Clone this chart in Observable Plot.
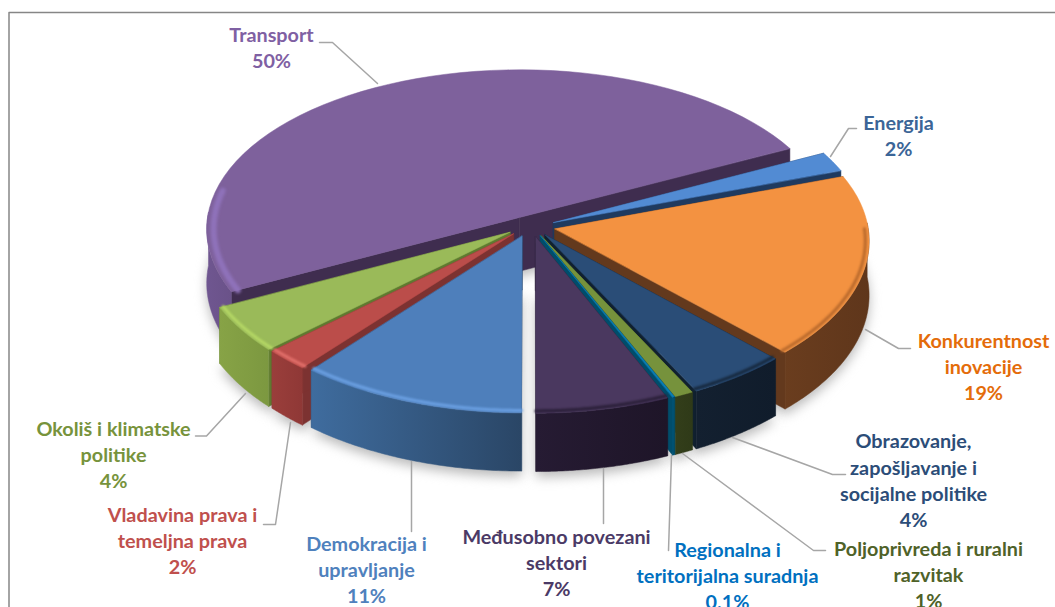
<!DOCTYPE html>
<html><head><meta charset="utf-8">
<style>html,body{margin:0;padding:0;background:#fff;overflow:hidden}</style>
<script src="https://cdn.jsdelivr.net/npm/d3@7"></script>
<script src="https://cdn.jsdelivr.net/npm/@observablehq/plot@0.6"></script>
</head><body><div id="chart"></div>
<script>
// Data, clockwise from the bottom of the pie (slice sizes)
const names = ["Demokracija i\nupravljanje","Vladavina prava i\ntemeljna prava","Okoliš i klimatske\npolitike","Transport","Energija","Konkurentnost\ninovacije","Obrazovanje,\nzapošljavanje i\nsocijalne politike","Poljoprivreda i ruralni\nrazvitak","Regionalna i\nteritorijalna suradnja","Međusobno povezani\nsektori"];
const values = [10.9,2.1,4.6,50,2,18.2,4.8,0.9,0.1,6.4];
const percents = ["11%","2%","4%","50%","2%","19%","4%","1%","0.1%","7%"];

// Colours
const textColors = ["#4f81bd","#c0504d","#77933c","#7f60a3","#3b6597","#e46c0a","#2c4d78","#4f6228","#0070c0","#4b3a66"];
const topColors  = ["#4e7fbb","#bb4d4a","#9aba59","#7e619c","#528bd3","#f39241","#2a4d77","#76923c","#0b7fb5","#4a385f"];
const faceColors = ["#2c4a6e","#7c3231","#5f7a30","#3f2d4f","#1f3a5f","#63391d","#10202f","#33401a","#004d6b","#1f1628"];
const wallFrom   = ["#3f6c9e","#9a3e3b","#87a346","#6f5690","#1f3a5f","#6a3d1e","#132030","#333e1a","#005477","#261b33"];
const wallTo     = ["#2a4666","#8f3836","#7c9840","#6a5289","#1f3a5f","#5f361b","#101c2b","#2f3a18","#004d6b","#1e1528"];
const rimColors  = ["#6ba0e2","#e2706b","#b5d865","#8f72ba",null,"#b8692c","#16283d",null,null,"#2a1f38"];
const rimFrom    = [0,0,0,62,0,270,0,0,0,0];
const rimTo      = [360,360,360,100,0,340,360,0,0,360];
const rimWidth   = [3,3,3,6,0,3,3,0,0,3];
const drawOrder  = [3,4,5,2,1,6,7,8,0,9];

// Layout
const W = 1055, H = 607;
const cx = 530, cy = 226, Rx = 313, Ry = 161, perspX = 0.07, perspY = 0.08, depth = 54;
const ex = 0.08, ey = 0.0625;
const labelX = [366,182,113,271,898,983,913,928,727,556];
const labelY = [568,539,453,46,134,365,479,573,574,561];
const leaders = [
  [[411,461],[411,531]],
  [[263,524],[275,524],[290,422]],
  [[195,435.5],[206,435.5],[245,393]],
  [[319,42],[332,42],[377,83]],
  [[856,128],[848,128],[830,156]],
  [[910,348],[898,348],[865,329]],
  [[845,474],[832,474],[732,437]],
  [[825,550],[813,550],[682,453]],
  [[668,550],[671,455]],
  [[603,468],[603,523]]
];
const frame = [[8.5,607],[8.5,12],[1055,12]];

const arcs = d3.pie().sort(null).startAngle(0).endAngle(2*Math.PI)(values);
const deg = Math.PI/180;
function project(u, v, drop = 0) {
  const sx = 1/(1 - perspX*v), sy = 1/(1 - perspY*v);
  return {x: cx + Rx*u*sx, y: cy + Ry*v*sy + drop*sx};
}
function geom(a) {
  const mid = (a.startAngle + a.endAngle)/2;
  const ox = -Math.sin(mid)*ex, oy = Math.cos(mid)*ey;
  const pt = (th, r, drop) => project(ox - r*Math.sin(th), oy + r*Math.cos(th), drop);
  const rim = (r, drop, t0 = a.startAngle, t1 = a.endAngle) => d3.range(0, 61).map(k => pt(t0 + (t1-t0)*k/60, r, drop));
  return {pt, rim};
}
const poly = (pts, fill) => Plot.line(pts, {x:"x", y:"y", fill, stroke:fill, strokeWidth:0.5, curve:"linear-closed"});

const marks = [];
// soft ground shadow
arcs.forEach(a => {
  const g = geom(a);
  marks.push(Plot.line([g.pt(a.startAngle,0,depth+5), ...g.rim(1,depth+5)], {x:"x", y:"y", fill:"#b9b9b9", stroke:"none", curve:"linear-closed", imageFilter:"blur(6px)"}));
});
// slices, back to front
drawOrder.forEach(i => {
  const a = arcs[i], g = geom(a);
  [a.startAngle, a.endAngle].forEach(th => {
    marks.push(poly([g.pt(th,0,0), g.pt(th,1,0), g.pt(th,1,depth), g.pt(th,0,depth)], faceColors[i]));
  });
  // outer wall: only the part of the rim that faces the viewer
  const spans = [[a.startAngle, Math.min(a.endAngle, 92*deg)], [Math.max(a.startAngle, 268*deg), a.endAngle]];
  spans.filter(([s,e]) => e > s).forEach(([s,e]) => {
    marks.push(poly([...g.rim(1,0,s,e), ...g.rim(1,depth,s,e).reverse()], `url(#wall${i})`));
  });
  marks.push(poly([g.pt(a.startAngle,0,0), ...g.rim(1,0)], topColors[i]));
  if (rimColors[i]) {
    const t0 = Math.max(a.startAngle, rimFrom[i]*deg), t1 = Math.min(a.endAngle, rimTo[i]*deg);
    if (t1 > t0) marks.push(Plot.line(g.rim(i===3?0.978:0.988,0,t0,t1), {x:"x", y:"y", stroke:rimColors[i], strokeWidth:rimWidth[i], imageFilter:i===3?"blur(1.5px)":"blur(1px)"}));
  }
});
// leader lines
leaders.forEach(l => marks.push(Plot.line(l.map(([x,y]) => ({x,y})), {x:"x", y:"y", stroke:"#a6a6a6", strokeWidth:1.5})));
// frame
marks.push(Plot.line(frame.map(([x,y]) => ({x,y})), {x:"x", y:"y", stroke:"#868686", strokeWidth:1.5}));
// labels
marks.push(Plot.text(names.map((n,i) => ({t:n+"\n"+percents[i], x:labelX[i], y:labelY[i], c:textColors[i]})), {
  x:"x", y:"y", text:"t", fill:"c", textAnchor:"middle", lineAnchor:"middle", lineHeight:1.33,
  fontSize:19.8, fontWeight:"bold", fontFamily:"Lato"
}));

const svg = Plot.plot({
  width:W, height:H, margin:0,
  x:{type:"linear", domain:[0,W], range:[0,W], axis:null},
  y:{type:"linear", domain:[0,H], range:[0,H], axis:null},
  style:{background:"#fff"},
  marks
});
svg.insertAdjacentHTML("afterbegin", "<defs>" + wallFrom.map((c,i) =>
  `<linearGradient id="wall${i}" x1="0" x2="1" y1="0" y2="0"><stop offset="0" stop-color="${c}"/><stop offset="1" stop-color="${wallTo[i]}"/></linearGradient>`).join("") + "</defs>");
document.getElementById("chart").appendChild(svg);
</script></body></html>
